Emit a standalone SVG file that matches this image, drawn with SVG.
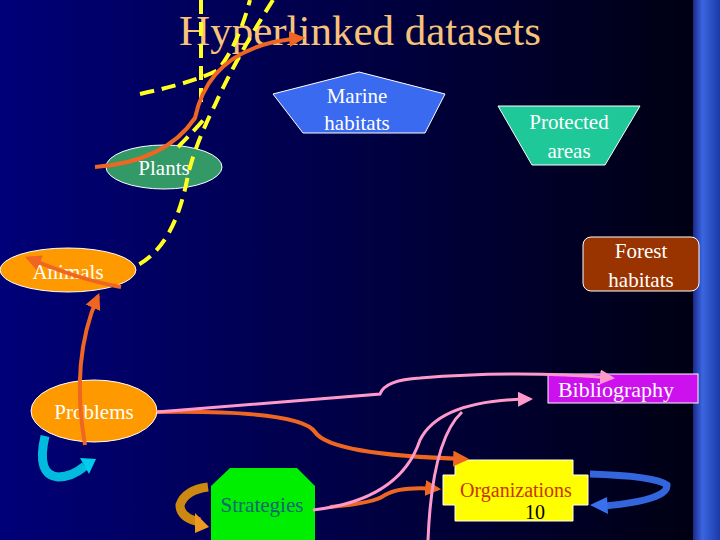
<svg xmlns="http://www.w3.org/2000/svg" width="720" height="540" viewBox="0 0 720 540">
<defs>
<linearGradient id="bg" x1="0" y1="0" x2="1" y2="0"><stop offset="0" stop-color="#000078"/><stop offset="1" stop-color="#00000f"/></linearGradient>
<linearGradient id="bar" x1="0" y1="0" x2="1" y2="0"><stop offset="0" stop-color="#1a2a88"/><stop offset="0.35" stop-color="#3a66e0"/><stop offset="1" stop-color="#1a3aa8"/></linearGradient>
<marker id="ao" viewBox="0 0 10 10" refX="8" refY="5" markerWidth="4" markerHeight="4" orient="auto"><path d="M0,0L10,5L0,10z" fill="#ee6622"/></marker>
<marker id="ap" viewBox="0 0 10 10" refX="8" refY="5" markerWidth="5" markerHeight="5" orient="auto"><path d="M0,0L10,5L0,10z" fill="#ff99cc"/></marker>
<style>
.t{font-family:"Liberation Serif",serif;font-size:21px;fill:#fff;text-anchor:middle}
.y{fill:none;stroke:#ffff22;stroke-width:4;stroke-dasharray:14 8}
.o{fill:none;stroke:#ee6622;stroke-width:4;marker-end:url(#ao)}
.p{fill:none;stroke:#ff99cc;stroke-width:3;marker-end:url(#ap)}
</style>
</defs>
<rect width="720" height="540" fill="url(#bg)"/>
<rect x="693" y="0" width="27" height="540" fill="url(#bar)"/>
<text x="360" y="45" font-family="Liberation Serif,serif" font-size="43" fill="#f7c27a" text-anchor="middle">Hyperlinked datasets</text>
<g id="marine"><polygon points="273,94 359,72 445,94 425,133 303,133" fill="#3a6af0" stroke="#fff" stroke-width="1"/><text class="t" x="357" y="103">Marine</text><text class="t" x="357" y="130">habitats</text></g>
<g id="protected"><polygon points="498,106 640,106 605,165 532,165" fill="#1ec898" stroke="#fff" stroke-width="1"/><text class="t" x="569" y="129">Protected</text><text class="t" x="569" y="158">areas</text></g>
<g id="plants"><ellipse cx="164" cy="167" rx="58" ry="22" fill="#339966" stroke="#fff"/><text class="t" x="164" y="175">Plants</text></g>
<g id="animals"><ellipse cx="68" cy="270" rx="68" ry="22" fill="#ff9900" stroke="#fff"/><text class="t" x="68" y="279">Animals</text></g>
<g id="forest"><rect x="583" y="237" width="116" height="54" rx="8" fill="#993300" stroke="#fff"/><text class="t" x="641" y="258">Forest</text><text class="t" x="641" y="287">habitats</text></g>
<g id="bibliography"><rect x="548" y="374" width="150" height="29" fill="#cc11ee" stroke="#fff"/><text class="t" x="616" y="397" style="font-size:22px">Bibliography</text></g>
<g id="problems"><ellipse cx="94" cy="411" rx="63" ry="31" fill="#ff9900" stroke="#fff"/><text class="t" x="94" y="419">Problems</text></g>
<g id="strategies"><polygon points="230,468 297,468 315,486 315,540 211,540 211,486" fill="#00ee00"/><text class="t" x="262" y="512" style="fill:#116677">Strategies</text></g>
<g id="organizations"><polygon points="455,460 573,460 573,475 588,475 588,505 573,505 573,521 455,521 455,505 443,505 443,475 455,475" fill="#ffff00" stroke="#fff"/><text class="t" x="516" y="497" style="fill:#cc3300;font-size:20px">Organizations</text><text class="t" x="535" y="519" style="fill:#000;font-size:20px">10</text></g>
<g id="connectors">
<path class="y" d="M201,0 L201,105"/>
<path class="y" d="M140,94 Q195,82 218,70 Q238,45 250,0"/>
<path class="y" d="M273,0 Q235,60 215,105 Q195,145 188,175 Q175,245 138,265"/>
<path class="y" d="M178,147 Q195,130 205,118"/>
<path class="o" d="M95,167 Q165,162 195,118 Q210,45 302,38"/>
<path class="o" d="M121,287 Q80,280 28,258"/>
<path class="o" d="M85,445 Q70,360 98,296"/>
<path class="o" d="M157,412 Q300,410 315,432 Q330,455 466,459"/>
<path class="o" d="M330,507 Q375,503 385,495 Q400,486 438,489"/>
<path class="p" d="M157,412 Q300,400 380,394 Q385,380 420,378 Q520,370 612,378"/>
<path class="p" d="M313,510 Q400,500 420,440 Q440,400 530,399"/>
<path fill="none" stroke="#ff99cc" stroke-width="3" d="M428,540 Q432,440 462,412"/>
<path fill="none" stroke="#00bbdd" stroke-width="9" d="M45,436 Q36,475 58,477 Q72,477 85,466"/>
<polygon points="80,458 96,459 89,474" fill="#00ccee"/>
<path fill="none" stroke="#cc8811" stroke-width="9" d="M208,487 Q185,490 180,505 Q180,518 200,522"/>
<polygon points="195,513 209,527 195,533" fill="#ee9922"/>
<path fill="none" stroke="#3366dd" stroke-width="7" d="M590,474 Q655,476 667,485 Q668,500 605,506"/>
<polygon points="590,505 607,497 608,514" fill="#3a70ee"/>
</g>
</svg>
